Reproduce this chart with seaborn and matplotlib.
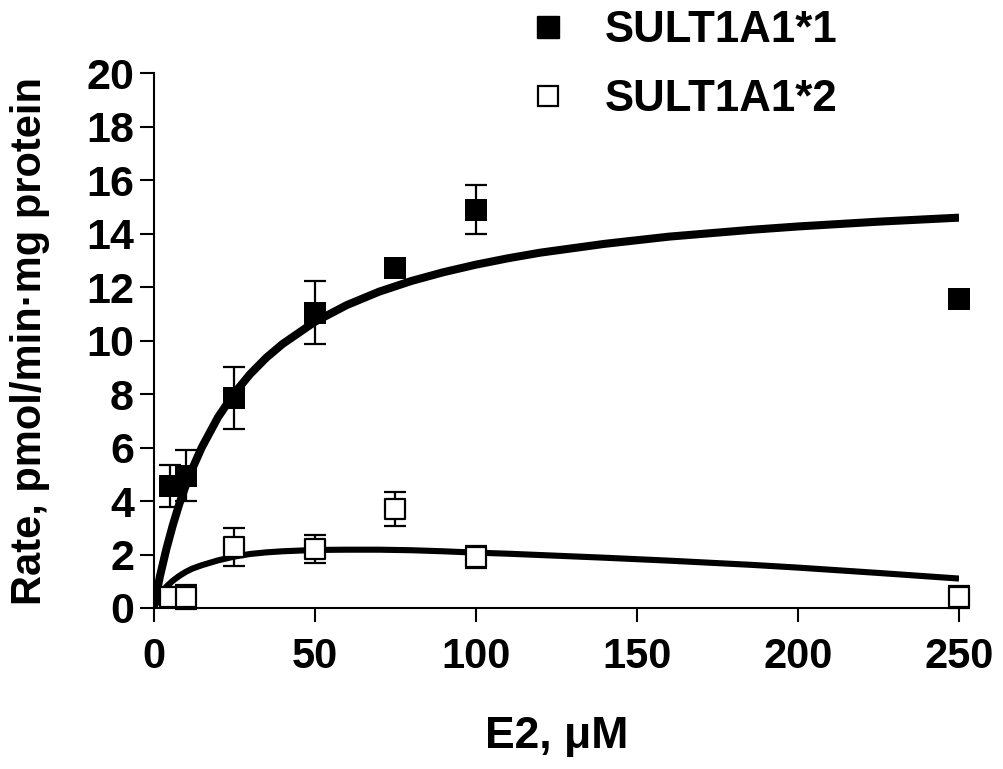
import numpy as np
import pandas as pd
import matplotlib
matplotlib.use("Agg")
import matplotlib.pyplot as plt
import seaborn as sns
from matplotlib.lines import Line2D

# ---------------- data ----------------
conc = [5, 10, 25, 50, 75, 100, 250]
rate_1 = [4.55, 4.95, 7.85, 11.05, 12.7, 14.9, 11.55]
err_1 = [0.78, 0.96, 1.17, 1.18, 0.3, 0.93, 0.0]
rate_2 = [0.41, 0.41, 2.28, 2.2, 3.7, 1.9, 0.41]
err_2 = [0.38, 0.45, 0.72, 0.52, 0.63, 0.4, 0.42]

curve_x = [0, 2, 4, 6, 8, 10, 12, 15, 20, 25, 30, 35, 40, 50, 60, 70, 80,
           90, 100, 110, 120, 140, 160, 186, 200, 225, 250]
curve_1 = [0, 1.19, 2.21, 3.10, 3.89, 4.58, 5.20, 6.01, 7.13, 8.02, 8.75,
           9.36, 9.87, 10.70, 11.33, 11.83, 12.23, 12.56, 12.84, 13.08,
           13.29, 13.62, 13.89, 14.15, 14.27, 14.45, 14.60]
curve_2 = [0, 0.42, 0.80, 1.02, 1.20, 1.35, 1.47, 1.60, 1.78, 1.92, 2.02,
           2.08, 2.12, 2.17, 2.18, 2.18, 2.16, 2.12, 2.07, 2.03, 1.98, 1.88,
           1.77, 1.61, 1.51, 1.31, 1.10]

labels = ["SULT1A1*1", "SULT1A1*2"]
x_ticks = [0, 50, 100, 150, 200, 250]
y_ticks = list(range(0, 21, 2))
x_label = "E2, μM"
y_label = "Rate, pmol/min·mg protein"

# ---------------- style ----------------
sns.set_style("ticks")
plt.rcParams["font.family"] = ["Liberation Sans", "DejaVu Sans"]
plt.rcParams["font.weight"] = "bold"
for key in ["text.color", "axes.labelcolor", "xtick.color", "ytick.color",
            "axes.edgecolor"]:
    plt.rcParams[key] = "black"

pts = pd.DataFrame({"conc": conc, "r1": rate_1, "e1": err_1,
                    "r2": rate_2, "e2": err_2})
curves = pd.DataFrame({"x": curve_x, "c1": curve_1, "c2": curve_2})

fig = plt.figure(figsize=(10.04, 7.69), dpi=100)
ax = fig.add_axes([0.1529, 0.2094, 0.8023, 0.6953])

# fitted curves
sns.lineplot(data=curves, x="x", y="c1", ax=ax, color="black", lw=5.8,
             zorder=2, solid_capstyle="butt")
sns.lineplot(data=curves, x="x", y="c2", ax=ax, color="black", lw=4.4,
             zorder=2, solid_capstyle="butt")

# error bars
ax.errorbar(pts["conc"], pts["r1"], yerr=pts["e1"], fmt="none",
            ecolor="black", elinewidth=1.6, capsize=8, capthick=1.6,
            zorder=3, clip_on=False)
ax.errorbar(pts["conc"], pts["r2"], yerr=pts["e2"], fmt="none",
            ecolor="black", elinewidth=1.6, capsize=8, capthick=1.6,
            zorder=3, clip_on=False)

# markers
sns.scatterplot(data=pts, x="conc", y="r1", ax=ax, marker="s", s=250,
                color="black", edgecolor="black", linewidth=0, zorder=4,
                clip_on=False)
sns.scatterplot(data=pts, x="conc", y="r2", ax=ax, marker="s", s=205,
                facecolor="white", edgecolor="black", linewidth=1.6,
                zorder=4, clip_on=False)

ax.set_xlim(0, 250)
ax.set_ylim(0, 20)
ax.set_xticks(x_ticks)
ax.set_yticks(y_ticks)
ax.set_xticklabels([str(t) for t in x_ticks], fontsize=30, fontweight="bold",
                   color="black")
ax.set_yticklabels([str(t) for t in y_ticks], fontsize=31, fontweight="bold",
                   color="black")
ax.tick_params(axis="both", direction="out", length=10, width=1.5,
               color="black", labelcolor="black")
ax.tick_params(axis="x", pad=11)
ax.tick_params(axis="y", pad=4)
for side in ["top", "right"]:
    ax.spines[side].set_visible(False)
for side in ["left", "bottom"]:
    ax.spines[side].set_linewidth(1.5)
    ax.spines[side].set_color("black")

ax.set_xlabel(x_label, fontsize=32, fontweight="bold", labelpad=28,
              color="black")
ax.set_ylabel(y_label, fontsize=30, fontweight="bold", labelpad=26,
              color="black")

handles = [
    Line2D([], [], marker="s", color="black", linestyle="none", markersize=16),
    Line2D([], [], marker="s", markerfacecolor="white", markeredgecolor="black",
           markeredgewidth=1.6, linestyle="none", markersize=14.5),
]
leg = fig.legend(handles, labels, loc="upper left",
                 bbox_to_anchor=(0.525, 0.987), frameon=False,
                 prop={"weight": "bold", "size": 31.5},
                 handlelength=0.95, handletextpad=0.83, labelspacing=0.64,
                 borderpad=0, borderaxespad=0)
for t in leg.get_texts():
    t.set_color("black")

fig.savefig("out.png", dpi=100)
